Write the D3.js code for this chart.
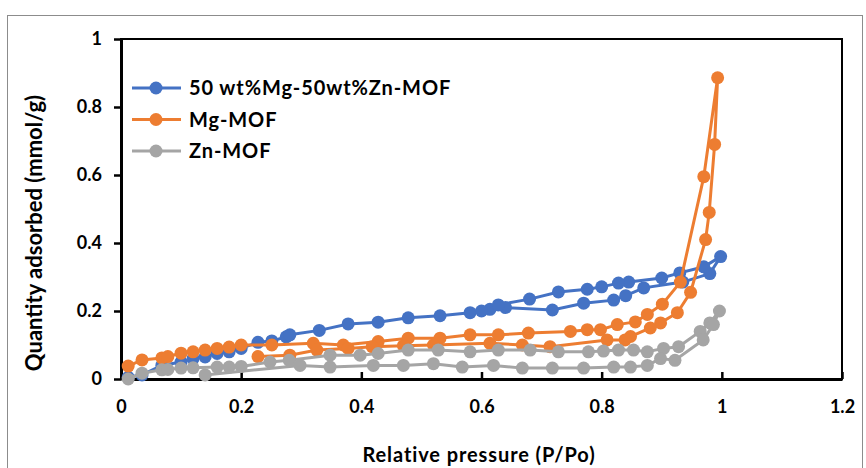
<!DOCTYPE html>
<html>
<head>
<meta charset="utf-8">
<script src="https://cdn.jsdelivr.net/npm/d3@7"></script>
<style>
  body { margin: 0; background: #fff; }
  text { font-family: Lato, "Open Sans", sans-serif; font-weight: bold; fill: #000; }
</style>
</head>
<body>
<svg class="chart" width="866" height="468"></svg>
<script>
// series names
let seriesNames = ['50 wt%Mg-50wt%Zn-MOF', 'Mg-MOF', 'Zn-MOF'];
let seriesColors = ['#4472C4', '#ED7D31', '#A5A5A5'];

// blue: adsorption then desorption
let mixP = [0.012, 0.035, 0.068, 0.1, 0.12, 0.14, 0.16, 0.18, 0.2, 0.228, 0.251, 0.275, 0.281, 0.33, 0.378, 0.428, 0.478, 0.531, 0.581, 0.614, 0.64,
            0.718, 0.77, 0.82, 0.84, 0.87, 0.935, 0.98, 0.998,
            0.97, 0.93, 0.9, 0.845, 0.828, 0.8, 0.776, 0.728, 0.68, 0.628, 0.6];
let mixQ = [0.005, 0.012, 0.04, 0.05, 0.06, 0.065, 0.075, 0.08, 0.09, 0.108, 0.112, 0.124, 0.13, 0.143, 0.162, 0.167, 0.18, 0.186, 0.195, 0.205, 0.21,
            0.203, 0.223, 0.232, 0.245, 0.268, 0.285, 0.31, 0.36,
            0.33, 0.312, 0.297, 0.285, 0.282, 0.271, 0.264, 0.256, 0.235, 0.218, 0.2];

// orange
let mgP = [0.012, 0.035, 0.068, 0.078, 0.1, 0.12, 0.14, 0.16, 0.18, 0.2, 0.251, 0.32, 0.37, 0.428, 0.478, 0.531, 0.581, 0.628, 0.678, 0.748, 0.776, 0.798, 0.826, 0.856, 0.876, 0.901, 0.931, 0.97, 0.993,
           0.988, 0.979, 0.973, 0.948, 0.926, 0.898, 0.881, 0.848, 0.839, 0.809, 0.714, 0.668, 0.614, 0.52, 0.47, 0.418, 0.378, 0.326, 0.281, 0.228];
let mgQ = [0.038, 0.056, 0.062, 0.066, 0.076, 0.08, 0.085, 0.09, 0.094, 0.1, 0.1, 0.105, 0.1, 0.11, 0.12, 0.12, 0.13, 0.13, 0.135, 0.14, 0.145, 0.145, 0.16, 0.168, 0.19, 0.22, 0.285, 0.595, 0.886,
           0.69, 0.49, 0.41, 0.255, 0.195, 0.165, 0.15, 0.125, 0.115, 0.115, 0.095, 0.1, 0.105, 0.1, 0.098, 0.095, 0.09, 0.085, 0.07, 0.066];

// gray
let znP = [0.012, 0.035, 0.068, 0.078, 0.1, 0.12, 0.16, 0.18, 0.2, 0.248, 0.28, 0.348, 0.398, 0.428, 0.478, 0.528, 0.581, 0.628, 0.681, 0.728, 0.778, 0.803, 0.828, 0.853, 0.876, 0.903, 0.928, 0.964, 0.98, 0.996,
           0.986, 0.969, 0.922, 0.898, 0.876, 0.848, 0.82, 0.77, 0.718, 0.668, 0.62, 0.568, 0.52, 0.47, 0.42, 0.348, 0.298, 0.14];
let znQ = [0.0, 0.017, 0.027, 0.028, 0.032, 0.033, 0.035, 0.035, 0.037, 0.05, 0.055, 0.07, 0.07, 0.075, 0.085, 0.085, 0.08, 0.085, 0.085, 0.08, 0.08, 0.082, 0.085, 0.085, 0.08, 0.09, 0.095, 0.14, 0.165, 0.2,
           0.16, 0.115, 0.055, 0.06, 0.04, 0.035, 0.035, 0.032, 0.032, 0.032, 0.04, 0.035, 0.045, 0.04, 0.04, 0.035, 0.04, 0.012];

let xTicks = [0, 0.2, 0.4, 0.6, 0.8, 1, 1.2];
let yTicks = [0, 0.2, 0.4, 0.6, 0.8, 1];

let series = [
  { name: seriesNames[0], color: seriesColors[0], pts: d3.zip(mixP, mixQ) },
  { name: seriesNames[1], color: seriesColors[1], pts: d3.zip(mgP, mgQ) },
  { name: seriesNames[2], color: seriesColors[2], pts: d3.zip(znP, znQ) }
];

let svg = d3.select('svg.chart');

// outer frame
svg.append('rect')
  .attr('x', 7.5).attr('y', 15.5)
  .attr('width', 855).attr('height', 470)
  .style('fill', 'none')
  .style('stroke', '#8c8c8c')
  .style('stroke-width', 1);

let plotL = 121, plotR = 842, plotT = 39, plotB = 379;

let x = d3.scaleLinear().domain([0, 1.2]).range([plotL, plotR]);
let y = d3.scaleLinear().domain([0, 1]).range([plotB, plotT]);

// plot box
svg.append('rect')
  .attr('x', plotL).attr('y', plotT)
  .attr('width', plotR - plotL).attr('height', plotB - plotT)
  .style('fill', 'none')
  .style('stroke', '#000')
  .style('stroke-width', 2);

// x axis, ticks pointing inside
let xAxis = svg.append('g')
  .attr('transform', `translate(0,${plotB})`)
  .call(d3.axisBottom(x).tickValues(xTicks).tickSizeInner(-7).tickSizeOuter(0).tickPadding(21).tickFormat(d3.format('')));

// y axis, ticks pointing outside
let yAxis = svg.append('g')
  .attr('transform', `translate(${plotL},0)`)
  .call(d3.axisLeft(y).tickValues(yTicks).tickSizeInner(7).tickSizeOuter(0).tickPadding(12).tickFormat(d3.format('')));

[xAxis, yAxis].forEach(g => {
  g.select('.domain').style('stroke', '#000').style('stroke-width', 3);
  g.selectAll('.tick line').style('stroke', '#000').style('stroke-width', 2.5);
  g.selectAll('.tick text')
    .style('font-family', 'Lato, sans-serif')
    .style('font-weight', 'bold')
    .style('font-size', '18px')
    .style('fill', '#000');
});

// axis titles
svg.append('text')
  .attr('x', 479).attr('y', 462)
  .attr('text-anchor', 'middle')
  .style('font-size', '20px')
  .style('letter-spacing', '0.9px')
  .text('Relative pressure (P/Po)');

svg.append('text')
  .attr('transform', 'translate(42,233) rotate(-90)')
  .attr('text-anchor', 'middle')
  .style('font-size', '22px')
  .text('Quantity adsorbed (mmol/g)');

// lines and markers
let line = d3.line().x(d => x(d[0])).y(d => y(d[1]));

series.forEach(s => {
  let g = svg.append('g');
  g.append('path')
    .attr('d', line(s.pts))
    .style('fill', 'none')
    .style('stroke', s.color)
    .style('stroke-width', 3);
  g.selectAll('circle')
    .data(s.pts)
    .enter()
    .append('circle')
    .attr('cx', d => x(d[0]))
    .attr('cy', d => y(d[1]))
    .attr('r', 6.5)
    .style('fill', s.color);
});

// legend
let legend = svg.append('g');
series.forEach((s, i) => {
  let ly = 88 + i * 31.5;
  legend.append('line')
    .attr('x1', 132).attr('x2', 181)
    .attr('y1', ly).attr('y2', ly)
    .style('stroke', s.color)
    .style('stroke-width', 3);
  legend.append('circle')
    .attr('cx', 156).attr('cy', ly).attr('r', 6.5)
    .style('fill', s.color);
  legend.append('text')
    .attr('x', 189).attr('y', ly + 7)
    .style('font-size', '20px')
    .style('letter-spacing', '0.9px')
    .text(s.name);
});
</script>
</body>
</html>
